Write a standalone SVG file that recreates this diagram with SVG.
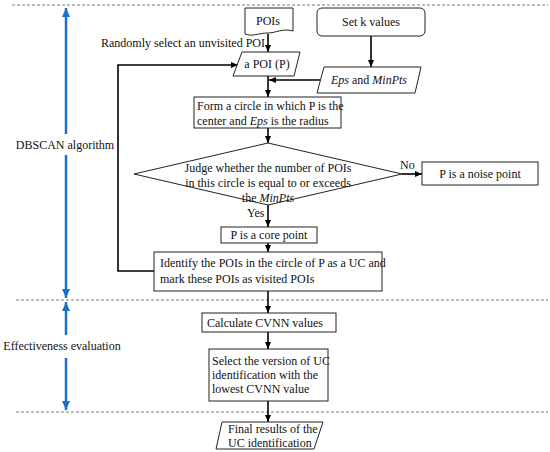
<svg xmlns="http://www.w3.org/2000/svg" width="550" height="452" viewBox="0 0 550 452">
<style>
text{font-family:"Liberation Serif","Times New Roman",serif;font-size:12px;fill:#111}
.c{text-anchor:middle}
.b{fill:#fff;stroke:#222;stroke-width:1}
.l{fill:none;stroke:#000;stroke-width:1.6}
.d{fill:none;stroke:#555;stroke-width:0.8;stroke-dasharray:3,2}
.bl{fill:none;stroke:#1a72c8;stroke-width:2.5}
.i{font-style:italic}
</style>
<defs>
<marker id="a" markerWidth="8" markerHeight="8" refX="7" refY="4" orient="auto" markerUnits="userSpaceOnUse"><path d="M0,1 L7,4 L0,7 Z" fill="#000"/></marker>
<marker id="ba" markerWidth="10" markerHeight="10" refX="9" refY="5" orient="auto" markerUnits="userSpaceOnUse"><path d="M0,1 L9,5 L0,9 Z" fill="#1a72c8"/></marker>
</defs>
<g id="dividers">
<line class="d" x1="12" y1="5" x2="548" y2="5"/>
<line class="d" x1="16" y1="300" x2="548" y2="300"/>
<line class="d" x1="16" y1="412" x2="548" y2="412"/>
</g>
<g id="phase-dbscan">
<line class="bl" x1="66" y1="134" x2="66" y2="8" marker-end="url(#ba)"/>
<line class="bl" x1="66" y1="155" x2="66" y2="298" marker-end="url(#ba)"/>
<text x="65" y="149" class="c">DBSCAN algorithm</text>
</g>
<g id="phase-eval">
<line class="bl" x1="66" y1="335" x2="66" y2="302" marker-end="url(#ba)"/>
<line class="bl" x1="66" y1="358" x2="66" y2="410" marker-end="url(#ba)"/>
<text x="62" y="350" class="c">Effectiveness evaluation</text>
</g>
<g id="connectors">
<line class="l" x1="268" y1="34" x2="268" y2="52" marker-end="url(#a)"/>
<line class="l" x1="371" y1="36" x2="371" y2="67" marker-end="url(#a)"/>
<line class="l" x1="320" y1="80" x2="269" y2="80" marker-end="url(#a)"/>
<line class="l" x1="268" y1="76" x2="268" y2="97" marker-end="url(#a)"/>
<line class="l" x1="268" y1="128" x2="268" y2="143" marker-end="url(#a)"/>
<line class="l" x1="402" y1="174" x2="422" y2="174" marker-end="url(#a)"/>
<line class="l" x1="268" y1="205" x2="268" y2="227" marker-end="url(#a)"/>
<line class="l" x1="268" y1="243" x2="268" y2="252" marker-end="url(#a)"/>
<polyline class="l" points="154,271 118,271 118,65 238,65" marker-end="url(#a)"/>
<line class="l" x1="268" y1="291" x2="268" y2="313" marker-end="url(#a)"/>
<line class="l" x1="268" y1="332" x2="268" y2="349" marker-end="url(#a)"/>
<line class="l" x1="268" y1="401" x2="268" y2="422" marker-end="url(#a)"/>
<text x="101" y="47">Randomly select an unvisited POI</text>
<text x="400" y="169">No</text>
<text x="247" y="217">Yes</text>
</g>
<g id="pois">
<path class="b" d="M245,8 H293 V31 C282,28 276,33 268,33 C259,33 252,37 245,34 Z"/>
<text x="268" y="25" class="c">POIs</text>
</g>
<g id="setk">
<rect class="b" x="317" y="8" width="108" height="28" rx="5"/>
<text x="371" y="26" class="c">Set k values</text>
</g>
<g id="apoi">
<polygon class="b" points="242,52 300,52 294,76 233,76"/>
<text x="267" y="68" class="c">a POI (P)</text>
</g>
<g id="eps">
<polygon class="b" points="324,67 421,67 415,93 317,93"/>
<text x="369" y="84" class="c"><tspan class="i">Eps</tspan> and <tspan class="i">MinPts</tspan></text>
</g>
<g id="circle">
<rect class="b" x="194" y="97" width="147" height="31"/>
<text x="197" y="110">Form a circle in which P is the</text>
<text x="197" y="125">center and <tspan class="i">Eps</tspan> is the radius</text>
</g>
<g id="judge">
<polygon class="b" points="268,143 402,174 268,205 134,174"/>
<text x="268" y="172" class="c">Judge whether the number of POIs</text>
<text x="268" y="187" class="c">in this circle is equal to or exceeds</text>
<text x="268" y="202" class="c">the <tspan class="i">MinPts</tspan></text>
</g>
<g id="noise">
<rect class="b" x="422" y="162" width="116" height="23"/>
<text x="480" y="178" class="c">P is a noise point</text>
</g>
<g id="core">
<rect class="b" x="221" y="227" width="96" height="16"/>
<text x="269" y="239" class="c">P is a core point</text>
</g>
<g id="identify">
<rect class="b" x="154" y="252" width="228" height="39"/>
<text x="160" y="267">Identify the POIs in the circle of P as a UC and</text>
<text x="160" y="283">mark these POIs as visited POIs</text>
</g>
<g id="cvnn">
<rect class="b" x="202" y="313" width="134" height="19"/>
<text x="207" y="327">Calculate CVNN values</text>
</g>
<g id="select">
<rect class="b" x="209" y="349" width="119" height="52"/>
<text x="212" y="365">Select the version of UC</text>
<text x="212" y="379">identification with the</text>
<text x="212" y="393">lowest CVNN value</text>
</g>
<g id="final">
<polygon class="b" points="222,422 323,422 314,449 216,449"/>
<text x="228" y="433">Final results of the</text>
<text x="228" y="447">UC identification</text>
</g>
</svg>
